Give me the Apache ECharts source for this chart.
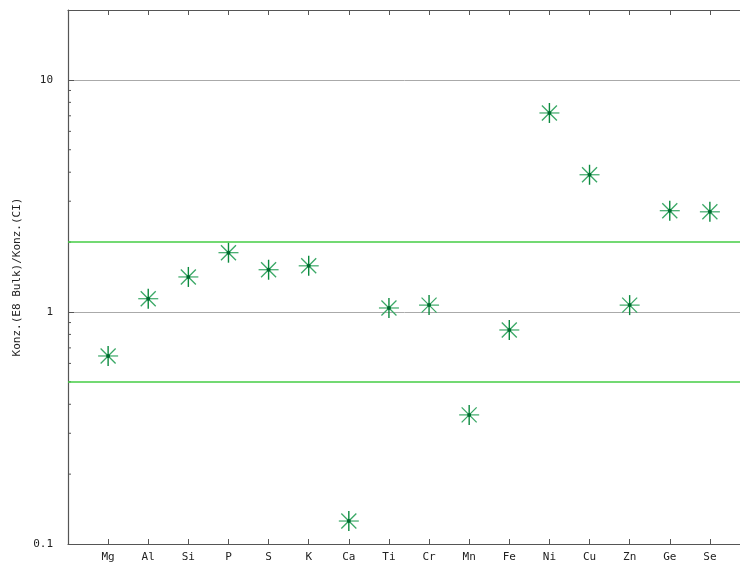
<!DOCTYPE html>
<html>
<head>
<meta charset="utf-8">
<script src="https://cdn.jsdelivr.net/npm/echarts@6/dist/echarts.min.js"></script>
<style>html,body{margin:0;padding:0;background:#fff;overflow:hidden}#c{width:740px;height:565px}</style>
</head>
<body>
<div id="c"></div>
<script>
const categories = ['Mg','Al','Si','P','S','K','Ca','Ti','Cr','Mn','Fe','Ni','Cu','Zn','Ge','Se'];
const ratios = [0.646,1.14,1.415,1.80,1.52,1.58,0.1256,1.04,1.07,0.36,0.836,7.2,3.90,1.07,2.73,2.70];
const limitLines = [2, 0.5];
const yTickLabels = [0.1, 1, 10];
const minorTickValues = [0.2,0.3,0.4,0.5,0.6,0.7,0.8,0.9,2,3,4,5,6,7,8,9];
const yAxisTitle = 'Konz.(E8 Bulk)/Konz.(CI)';

const font = 'DejaVu Sans Mono';
const axisColor = '#555';
const catPositions = categories.map((c, i) => i + 1);

const chart = echarts.init(document.getElementById('c'), null, {renderer: 'canvas'});

function starItem(params, api) {
  const p = api.coord([api.value(0), api.value(1)]);
  const r = 10, d = 7.5;
  const light = '#3aa866', dark = '#0b8a3e';
  const ln = (x1, y1, x2, y2, c, w) => ({type: 'line', shape: {x1, y1, x2, y2}, style: {stroke: c, lineWidth: w}});
  return {type: 'group', children: [
    ln(p[0]-r, p[1], p[0]+r, p[1], light, 1.2),
    ln(p[0]-d, p[1]-d, p[0]+d, p[1]+d, light, 1.3),
    ln(p[0]-d, p[1]+d, p[0]+d, p[1]-d, light, 1.3),
    ln(p[0], p[1]-r, p[0], p[1]+r, dark, 1.4),
    {type: 'circle', shape: {cx: p[0], cy: p[1], r: 2}, style: {fill: '#006b30'}}
  ]};
}

function minorTick(params, api) {
  const p = api.coord([0, api.value(0)]);
  return {type: 'line', shape: {x1: p[0], y1: p[1], x2: p[0] + 3, y2: p[1]}, style: {stroke: axisColor, lineWidth: 1}};
}

const xCommon = {
  type: 'value', min: 0, max: 17,
  axisLine: {show: true, lineStyle: {color: axisColor, width: 1.2}},
  axisTick: {show: true, inside: true, length: 5, customValues: catPositions, lineStyle: {color: axisColor}},
  splitLine: {show: false},
  minorSplitLine: {show: false}
};

chart.setOption({
  animation: false,
  backgroundColor: '#fff',
  grid: {left: 68, top: 10, width: 682, bottom: 21, containLabel: false, outerBoundsMode: 'none', show: false},
  xAxis: [
    Object.assign({}, xCommon, {
      position: 'bottom',
      axisLabel: {show: true, customValues: catPositions, margin: 8, color: '#222', fontFamily: font, fontSize: 11,
        formatter: v => categories[Math.round(v) - 1] || ''}
    }),
    Object.assign({}, xCommon, {position: 'top', axisLabel: {show: false}})
  ],
  yAxis: {
    type: 'log', logBase: 10, min: 0.1, max: 20,
    name: yAxisTitle, nameLocation: 'middle', nameRotate: 90, nameGap: 44,
    nameTextStyle: {color: '#222', fontFamily: font, fontSize: 11},
    axisLine: {show: true, lineStyle: {color: axisColor, width: 1.2}},
    axisTick: {show: true, inside: true, length: 6, lineStyle: {color: axisColor}},
    axisLabel: {color: '#222', fontFamily: font, fontSize: 11, margin: 15,
      formatter: v => yTickLabels.some(t => Math.abs(t - v) < 1e-9) ? String(v) : ''},
    splitLine: {show: true, lineStyle: {color: '#aaaaaa', width: 1}}
  },
  series: [
    {
      type: 'custom', name: 'ticks', silent: true, xAxisIndex: 0,
      data: minorTickValues.map(v => [v]),
      encode: {y: 0},
      renderItem: minorTick, clip: false
    },
    {
      type: 'custom', name: 'ratio', xAxisIndex: 0,
      data: catPositions.map((x, i) => [x, ratios[i]]),
      encode: {x: 0, y: 1},
      renderItem: starItem,
      markLine: {
        silent: true, symbol: ['none', 'none'], label: {show: false},
        lineStyle: {color: '#44cc44', width: 1.6, type: 'solid'},
        data: limitLines.map(v => ({yAxis: v}))
      }
    }
  ]
});
</script>
</body>
</html>
